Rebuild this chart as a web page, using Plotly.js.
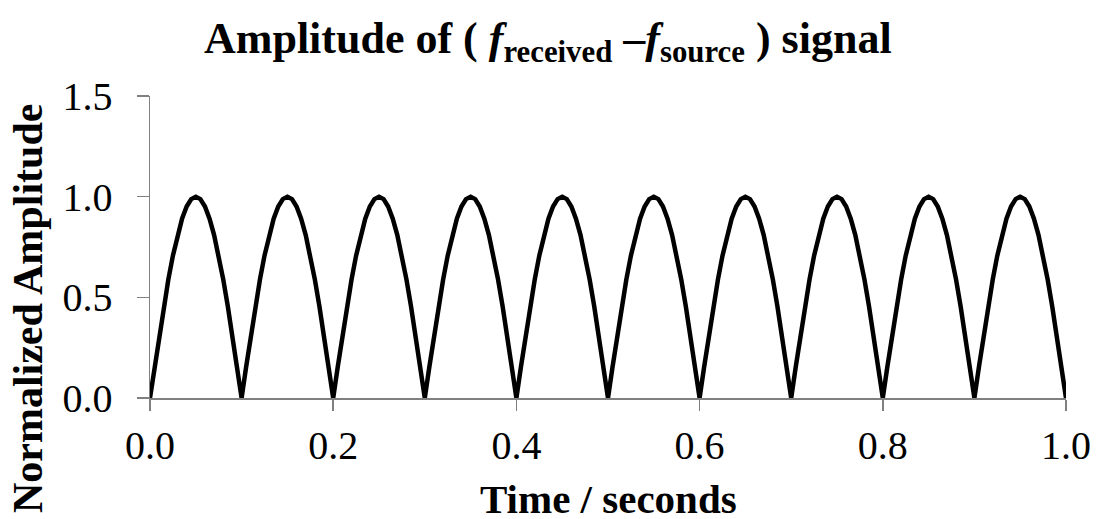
<!DOCTYPE html>
<html>
<head>
<meta charset="utf-8">
<script src="https://cdn.plot.ly/plotly-3.0.1.min.js"></script>
<style>html,body{margin:0;padding:0;background:#fff;}#chart{width:1097px;height:519px;}</style>
</head>
<body>
<div id="chart"></div>
<script>
var timeSeconds = [];
for (var i = 0; i <= 200; i++) { timeSeconds.push(+(i * 0.005).toFixed(3)); }
var amplitude = [
0,0.156,0.309,0.454,0.588,0.707,0.809,0.891,0.951,0.988,1,0.988,0.951,0.891,0.809,0.707,0.588,0.454,0.309,0.156,
0,0.156,0.309,0.454,0.588,0.707,0.809,0.891,0.951,0.988,1,0.988,0.951,0.891,0.809,0.707,0.588,0.454,0.309,0.156,
0,0.156,0.309,0.454,0.588,0.707,0.809,0.891,0.951,0.988,1,0.988,0.951,0.891,0.809,0.707,0.588,0.454,0.309,0.156,
0,0.156,0.309,0.454,0.588,0.707,0.809,0.891,0.951,0.988,1,0.988,0.951,0.891,0.809,0.707,0.588,0.454,0.309,0.156,
0,0.156,0.309,0.454,0.588,0.707,0.809,0.891,0.951,0.988,1,0.988,0.951,0.891,0.809,0.707,0.588,0.454,0.309,0.156,
0,0.156,0.309,0.454,0.588,0.707,0.809,0.891,0.951,0.988,1,0.988,0.951,0.891,0.809,0.707,0.588,0.454,0.309,0.156,
0,0.156,0.309,0.454,0.588,0.707,0.809,0.891,0.951,0.988,1,0.988,0.951,0.891,0.809,0.707,0.588,0.454,0.309,0.156,
0,0.156,0.309,0.454,0.588,0.707,0.809,0.891,0.951,0.988,1,0.988,0.951,0.891,0.809,0.707,0.588,0.454,0.309,0.156,
0,0.156,0.309,0.454,0.588,0.707,0.809,0.891,0.951,0.988,1,0.988,0.951,0.891,0.809,0.707,0.588,0.454,0.309,0.156,
0,0.156,0.309,0.454,0.588,0.707,0.809,0.891,0.951,0.988,1,0.988,0.951,0.891,0.809,0.707,0.588,0.454,0.309,0.156,
0];
var xTickVals = [0, 0.2, 0.4, 0.6, 0.8, 1.0];
var yTickVals = [0, 0.5, 1.0, 1.5];
var chartTitle = '<b>Amplitude of ( <i>f</i><sub>received</sub> \u2013<i>f</i><sub>source</sub> ) signal</b>';
var xTitle = '<b>Time / seconds</b>';
var yTitle = '<b>Normalized Amplitude</b>';

var font = 'Liberation Serif';
var trace = {
  x: timeSeconds, y: amplitude, type: 'scatter', mode: 'lines',
  line: {color: '#000000', width: 4.5}, hoverinfo: 'none'
};
var layout = {
  width: 1097, height: 519,
  margin: {l: 150, r: 31, t: 96, b: 121},
  paper_bgcolor: '#ffffff', plot_bgcolor: '#ffffff',
  showlegend: false,
  font: {family: font, color: '#000000', size: 40},
  xaxis: {
    range: [0, 1], tickvals: xTickVals, tickformat: '.1f',
    showgrid: false, zeroline: false, showline: true, linecolor: '#808080', linewidth: 1.5,
    ticks: 'outside', ticklen: 11, tickcolor: '#808080', tickwidth: 1.5,
    tickfont: {family: font, size: 40, color: '#000'}
  },
  yaxis: {
    range: [0, 1.5], tickvals: yTickVals, tickformat: '.1f',
    showgrid: false, zeroline: false, showline: true, linecolor: '#808080', linewidth: 1.5,
    ticks: 'outside', ticklen: 12, tickcolor: '#808080', tickwidth: 1.5, ticklabelstandoff: 16,
    tickfont: {family: font, size: 40, color: '#000'}
  },
  annotations: [
    {text: chartTitle, xref: 'paper', yref: 'paper', x: 0.4345, y: 1.179, xanchor: 'center', yanchor: 'middle',
     showarrow: false, font: {family: font, size: 44, color: '#000'}},
    {text: xTitle, xref: 'paper', yref: 'paper', x: 0.5, y: -0.334, xanchor: 'center', yanchor: 'middle',
     showarrow: false, font: {family: font, size: 41, color: '#000'}},
    {text: yTitle, textangle: -90, xref: 'paper', yref: 'paper',
     x: -0.133, y: 0.295, xanchor: 'center', yanchor: 'middle', showarrow: false,
     font: {family: font, size: 42, color: '#000'}}
  ]
};
Plotly.newPlot('chart', [trace], layout, {displayModeBar: false, staticPlot: true});
</script>
</body>
</html>
